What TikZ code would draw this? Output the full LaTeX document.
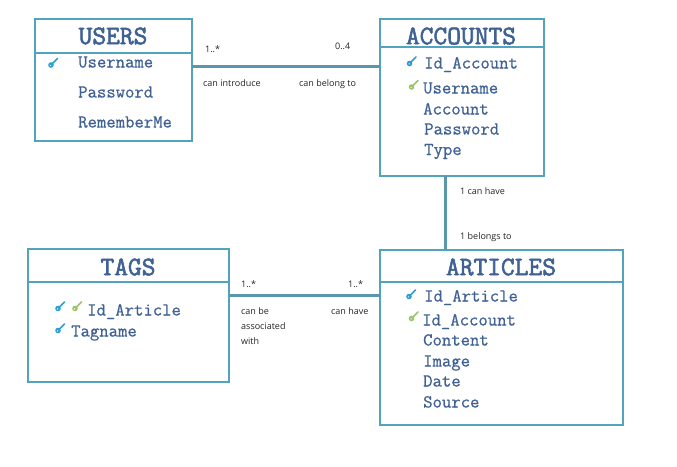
\documentclass[tikz,border=0pt]{standalone}
\usepackage{fontspec}
\setmainfont{Open Sans}
\newfontfamily\titlefont[FakeBold=2.2]{Latin Modern Mono}
\newfontfamily\attrfont[FakeBold=0.7]{Latin Modern Mono}
\definecolor{bord}{HTML}{52A3BC}
\definecolor{ink}{HTML}{3F6194}
\definecolor{keyb}{HTML}{2C9FD0}
\definecolor{keyg}{HTML}{9CC46C}
\definecolor{linkc}{HTML}{5A96AC}
\tikzset{
  x=1pt,y=-1pt,
  entity/.style={draw=bord,line width=2.3pt,fill=white,inner sep=0pt,outer sep=0pt},
  divider/.style={draw=bord,line width=2.3pt},
  link/.style={draw=linkc,line width=3pt},
  title/.style={text=ink,font=\titlefont\fontsize{26.7}{27}\selectfont,inner sep=0pt},
  attr/.style={text=ink,font=\attrfont\fontsize{18.2}{18}\selectfont,anchor=base west,inner sep=0pt},
  lab/.style={text=black!85,font=\fontsize{9}{11}\selectfont,anchor=base west,inner sep=0pt,align=left},
  pics/key/.style={code={
    \draw[#1,line width=1.5pt,line cap=round] (0,0)--(5.5,-5.5);
    \fill[#1] (-1,1) circle (2.8pt);
    \fill[white] (-1.4,1.4) circle (0.7pt);
  }}
}
\begin{document}
\begin{tikzpicture}
\useasboundingbox (0,0) rectangle (677,466);
\fill[white] (0,0) rectangle (677,466);
\node[entity,minimum width=157pt,minimum height=122pt,anchor=north west] (users) at (35,19) {};
\node[entity,minimum width=164pt,minimum height=157pt,anchor=north west] (accounts) at (380,19) {};
\node[entity,minimum width=201pt,minimum height=133pt,anchor=north west] (tags) at (28,249) {};
\node[entity,minimum width=243pt,minimum height=175pt,anchor=north west] (articles) at (380,250) {};
\coordinate (u1) at (users.east |- 0,66);
\coordinate (a1) at (accounts.west |- 0,66);
\coordinate (a2) at (445,0 |- accounts.south);
\coordinate (r2) at (445,0 |- articles.north);
\coordinate (t1) at (tags.east |- 0,295);
\coordinate (r1) at (articles.west |- 0,295);
\draw[link] (u1)--(a1);
\draw[link] (a2)--(r2);
\draw[link] (t1)--(r1);
\draw[divider] (users.west |- 0,53)--(users.east |- 0,53);
\draw[divider] (accounts.west |- 0,47)--(accounts.east |- 0,47);
\draw[divider] (tags.west |- 0,282)--(tags.east |- 0,282);
\draw[divider] (articles.west |- 0,282)--(articles.east |- 0,282);
\node[title] (tu) at (113,36) {USERS};
\node[title] (tc) at (461,36) {ACCOUNTS};
\node[title] (tt) at (128,267) {TAGS};
\node[title] (tr) at (501,267) {ARTICLES};
\node[attr] (u-a) at (78,67.5) {Username};
\node[attr] (u-b) at (78,97.5) {Password};
\node[attr] (u-c) at (78,127.5) {RememberMe};
\node[attr] (c-a) at (424,68.5) {Id\_Account};
\node[attr] (c-b) at (423,93.5) {Username};
\node[attr] (c-c) at (423,114.5) {Account};
\node[attr] (c-d) at (424,134.5) {Password};
\node[attr] (c-e) at (424,155) {Type};
\node[attr] (t-a) at (87,315.5) {Id\_Article};
\node[attr] (t-b) at (71,336.5) {Tagname};
\node[attr] (r-a) at (424,301.5) {Id\_Article};
\node[attr] (r-b) at (422,325.5) {Id\_Account};
\node[attr] (r-c) at (423,345.5) {Content};
\node[attr] (r-d) at (423,366.5) {Image};
\node[attr] (r-e) at (423,386.5) {Date};
\node[attr] (r-f) at (423,407.5) {Source};
\pic at (52,64) {key=keyb};
\pic at (410.5,62.5) {key=keyb};
\pic at (412.5,86) {key=keyg};
\pic at (59,307.5) {key=keyb};
\pic at (76,307.5) {key=keyg};
\pic at (59,329.5) {key=keyb};
\pic at (410,295.5) {key=keyb};
\pic at (412.5,317.5) {key=keyg};
\node[lab] (l1) at (205,52) {1..*};
\node[lab] (l2) at (335,49) {0..4};
\node[lab] (l3) at (203,86) {can introduce};
\node[lab] (l4) at (299,86) {can belong to};
\node[lab] (l5) at (460,194) {1 can have};
\node[lab] (l6) at (460,239) {1 belongs to};
\node[lab] (l7) at (241,287) {1..*};
\node[lab] (l8) at (348,287) {1..*};
\node[lab] (l9) at (241,314) {can be};
\node[lab] (l10) at (241,329) {associated};
\node[lab] (l11) at (241,344) {with};
\node[lab] (l12) at (331,314) {can have};
\end{tikzpicture}
\end{document}
